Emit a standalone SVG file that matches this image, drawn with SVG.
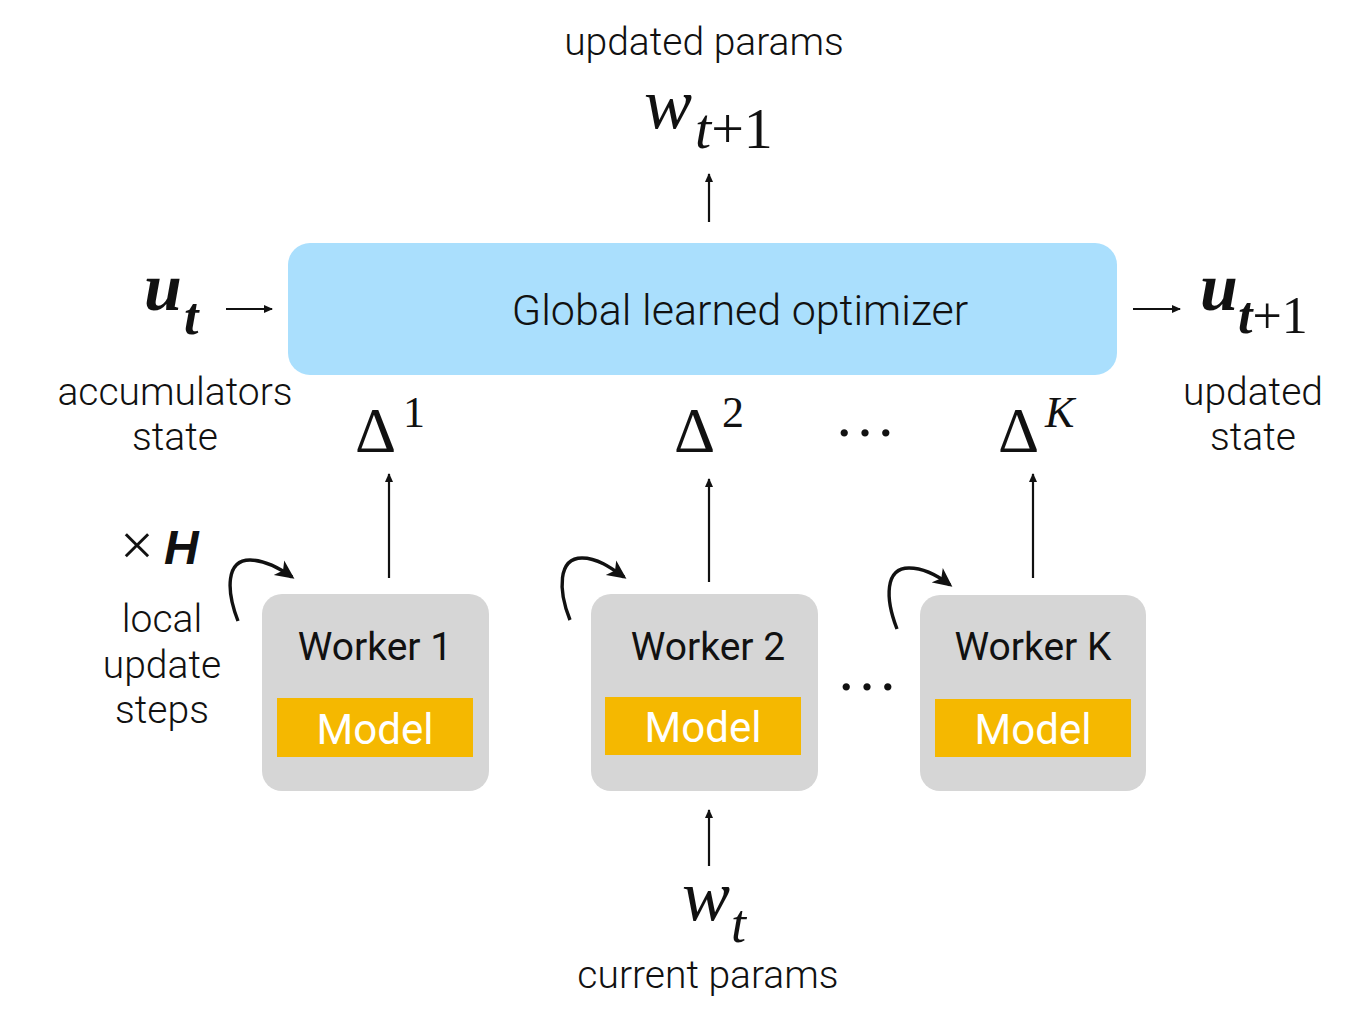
<svg xmlns="http://www.w3.org/2000/svg" width="1364" height="1036" viewBox="0 0 1364 1036">
<style>
.lbl{font-family:Roboto,"Liberation Sans",sans-serif;font-size:39px;fill:#111;text-anchor:middle;font-weight:300}
.wk{font-family:Roboto,"Liberation Sans",sans-serif;font-size:39px;fill:#111;text-anchor:middle}
.mdl{font-family:Roboto,"Liberation Sans",sans-serif;font-size:42px;fill:#fff;text-anchor:middle}
.math{font-family:"Liberation Serif","DejaVu Serif",serif;fill:#111}
.ln{stroke:#111;stroke-width:2.2;fill:none}
.cur{stroke:#111;stroke-width:3.4;fill:none}
.worker{fill:#d6d6d6}
.model{fill:#f5b800}
</style>
<defs>
<marker id="ah" markerWidth="10" markerHeight="10" refX="8" refY="5" orient="auto" markerUnits="userSpaceOnUse">
<path d="M0,1 L9,5 L0,9 Z" fill="#111"/>
</marker>
<marker id="ch" markerWidth="22" markerHeight="20" refX="16" refY="10" orient="auto" markerUnits="userSpaceOnUse">
<path d="M0,1 L19,10 L0,19 L5,10 Z" fill="#111"/>
</marker>
</defs>

<g id="top-label">
<text class="lbl" x="704" y="55">updated params</text>
<text class="math" x="644" y="128" font-size="72" font-style="italic">w</text>
<text class="math" x="695" y="148" font-size="58"><tspan font-style="italic">t</tspan>+1</text>
</g>

<g id="optimizer">
<rect x="288" y="243" width="829" height="132" rx="22" fill="#aadffd"/>
<text x="740" y="325" font-family="Roboto,'Liberation Sans',sans-serif" font-size="43" fill="#111" text-anchor="middle" font-weight="300">Global learned optimizer</text>
</g>

<g id="left-state">
<text class="math" x="144" y="310" font-size="68" font-style="italic" font-weight="bold">u</text>
<text class="math" x="184" y="334" font-size="52" font-style="italic" font-weight="bold">t</text>
<text class="lbl" x="175" y="405">accumulators</text>
<text class="lbl" x="175" y="450">state</text>
</g>

<g id="right-state">
<text class="math" x="1200" y="310" font-size="68" font-style="italic" font-weight="bold">u</text>
<text class="math" x="1238" y="333" font-size="52"><tspan font-style="italic" font-weight="bold">t</tspan>+1</text>
<text class="lbl" x="1253" y="405">updated</text>
<text class="lbl" x="1253" y="450">state</text>
</g>

<g id="deltas">
<text class="math" x="355" y="452" font-size="64">Δ</text>
<text class="math" x="403" y="427" font-size="44">1</text>
<text class="math" x="674" y="452" font-size="64">Δ</text>
<text class="math" x="722" y="427" font-size="44">2</text>
<text class="math" x="834" y="436" font-size="62">…</text>
<text class="math" x="998" y="452" font-size="64">Δ</text>
<text class="math" x="1045" y="427" font-size="44" font-style="italic">K</text>
</g>

<g id="H-label">
<text class="math" x="120" y="565" font-size="60">×</text>
<text x="164" y="564" style="font-family:'Liberation Sans',Arial,sans-serif;font-size:48px;font-style:italic;font-weight:bold;fill:#111">H</text>
<text class="lbl" x="162" y="632">local</text>
<text class="lbl" x="162" y="678">update</text>
<text class="lbl" x="162" y="723">steps</text>
</g>

<g id="worker1">
<rect class="worker" x="262" y="594" width="227" height="197" rx="20"/>
<text class="wk" x="375" y="660">Worker 1</text>
<rect class="model" x="277" y="698" width="196" height="59"/>
<text class="mdl" x="375" y="744">Model</text>
</g>
<g id="worker2">
<rect class="worker" x="591" y="594" width="227" height="197" rx="20"/>
<text class="wk" x="708" y="660">Worker 2</text>
<rect class="model" x="605" y="697" width="196" height="58"/>
<text class="mdl" x="703" y="742">Model</text>
</g>
<g id="workerK">
<rect class="worker" x="920" y="595" width="226" height="196" rx="20"/>
<text class="wk" x="1033" y="660">Worker K</text>
<rect class="model" x="935" y="699" width="196" height="58"/>
<text class="mdl" x="1033" y="744">Model</text>
</g>
<g id="dots-workers">
<text class="math" x="836" y="690" font-size="62">…</text>
</g>

<g id="bottom-label">
<text class="math" x="682" y="920" font-size="72" font-style="italic">w</text>
<text class="math" x="731" y="942" font-size="54" font-style="italic">t</text>
<text class="lbl" x="708" y="988">current params</text>
</g>

<g id="connectors">
<line class="ln" x1="709" y1="222" x2="709" y2="174" marker-end="url(#ah)"/>
<line class="ln" x1="226" y1="309" x2="272" y2="309" marker-end="url(#ah)"/>
<line class="ln" x1="1133" y1="309" x2="1180" y2="309" marker-end="url(#ah)"/>
<line class="ln" x1="389" y1="578" x2="389" y2="474" marker-end="url(#ah)"/>
<line class="ln" x1="709" y1="582" x2="709" y2="479" marker-end="url(#ah)"/>
<line class="ln" x1="1033" y1="578" x2="1033" y2="474" marker-end="url(#ah)"/>
<line class="ln" x1="709" y1="866" x2="709" y2="810" marker-end="url(#ah)"/>
<path class="cur" d="M238,621 C226,590 226,560 250,560 C265,560 278,567 292,577" marker-end="url(#ch)"/>
<path class="cur" d="M570,620 C558,590 558,558 582,558 C597,558 610,567 624,577" marker-end="url(#ch)"/>
<path class="cur" d="M897,629 C885,598 885,568 909,568 C924,568 937,575 950,585" marker-end="url(#ch)"/>
</g>
</svg>
